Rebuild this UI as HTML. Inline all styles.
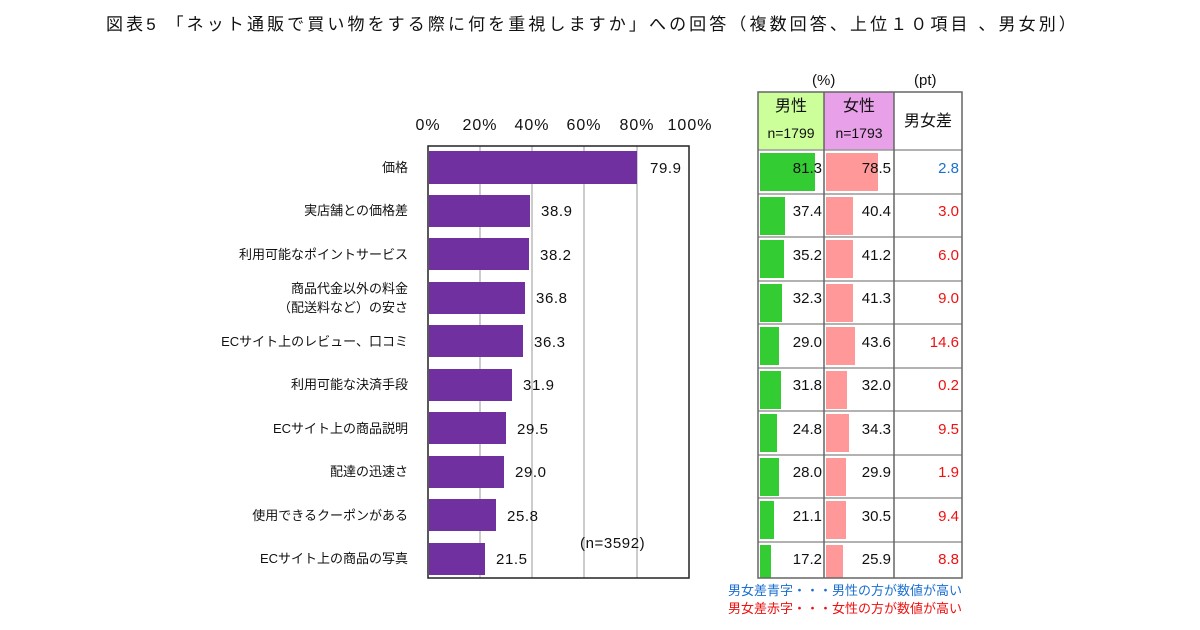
<!DOCTYPE html><html><head><meta charset="utf-8"><style>
body{margin:0;width:1200px;height:630px;background:#fff;font-family:"Liberation Sans","Noto Sans CJK JP",sans-serif;position:relative;overflow:hidden}
.a{position:absolute;white-space:nowrap}
</style></head><body>
<div class="a" style="left:106px;top:10px;font-size:17px;letter-spacing:3.1px;color:#111">図表5 「ネット通販で買い物をする際に何を重視しますか」への回答（複数回答、上位１０項目 、男女別）</div>
<svg class="a" style="left:0;top:0" width="1200" height="630" font-family="Liberation Sans, Noto Sans CJK JP, sans-serif">
<g font-size="16" fill="#111" text-anchor="middle" letter-spacing="1">
<text x="428" y="130">0%</text><text x="480" y="130">20%</text><text x="532" y="130">40%</text><text x="584" y="130">60%</text><text x="637" y="130">80%</text><text x="690" y="130">100%</text>
</g>
<g stroke="#999" stroke-width="1">
<line x1="480" y1="146" x2="480" y2="578"/><line x1="532" y1="146" x2="532" y2="578"/><line x1="584" y1="146" x2="584" y2="578"/><line x1="637" y1="146" x2="637" y2="578"/>
</g>
<rect x="428" y="146" width="261" height="432" fill="none" stroke="#222" stroke-width="1.5"/>
<g fill="#7030a0">
<rect x="429" y="151" width="208" height="33"/>
<rect x="429" y="195" width="101" height="32"/>
<rect x="429" y="238" width="100" height="32"/>
<rect x="429" y="282" width="96" height="32"/>
<rect x="429" y="325" width="94" height="32"/>
<rect x="429" y="369" width="83" height="32"/>
<rect x="429" y="412" width="77" height="32"/>
<rect x="429" y="456" width="75" height="32"/>
<rect x="429" y="499" width="67" height="32"/>
<rect x="429" y="543" width="56" height="32"/>
</g>
<g font-size="15" fill="#111" letter-spacing="0.6">
<text x="650" y="173">79.9</text><text x="541" y="216">38.9</text><text x="540" y="260">38.2</text><text x="536" y="303">36.8</text><text x="534" y="347">36.3</text><text x="523" y="390">31.9</text><text x="517" y="434">29.5</text><text x="515" y="477">29.0</text><text x="507" y="521">25.8</text><text x="496" y="564">21.5</text>
<text x="580" y="548">(n=3592)</text>
</g>
<g font-size="13" fill="#111" text-anchor="end">
<text x="408" y="172">価格</text><text x="408" y="215">実店舗との価格差</text><text x="408" y="259">利用可能なポイントサービス</text>
<text x="408" y="293">商品代金以外の料金</text><text x="408" y="312">（配送料など）の安さ</text>
<text x="408" y="346">ECサイト上のレビュー、口コミ</text><text x="408" y="389">利用可能な決済手段</text><text x="408" y="433">ECサイト上の商品説明</text><text x="408" y="476">配達の迅速さ</text><text x="408" y="520">使用できるクーポンがある</text><text x="408" y="563">ECサイト上の商品の写真</text>
</g>
<text x="812" y="85" font-size="15" fill="#111">(%)</text><text x="914" y="85" font-size="15" fill="#111">(pt)</text>
<rect x="758" y="92" width="66" height="58" fill="#ccff99"/><rect x="824" y="92" width="70" height="58" fill="#e8a0e8"/>
<g font-size="16" fill="#111" text-anchor="middle">
<text x="791" y="111">男性</text><text x="859" y="111">女性</text><text x="928" y="126">男女差</text>
</g>
<g font-size="14" fill="#111" text-anchor="middle"><text x="791" y="138">n=1799</text><text x="859" y="138">n=1793</text></g>
<g fill="#33cc33">
<rect x="760" y="153" width="55" height="38"/><rect x="760" y="197" width="25" height="38"/><rect x="760" y="240" width="24" height="38"/><rect x="760" y="284" width="22" height="38"/><rect x="760" y="327" width="19" height="38"/><rect x="760" y="371" width="21" height="38"/><rect x="760" y="414" width="17" height="38"/><rect x="760" y="458" width="19" height="38"/><rect x="760" y="501" width="14" height="38"/><rect x="760" y="545" width="11" height="33"/>
</g>
<g fill="#ff9999">
<rect x="826" y="153" width="52" height="38"/><rect x="826" y="197" width="27" height="38"/><rect x="826" y="240" width="27" height="38"/><rect x="826" y="284" width="27" height="38"/><rect x="826" y="327" width="29" height="38"/><rect x="826" y="371" width="21" height="38"/><rect x="826" y="414" width="23" height="38"/><rect x="826" y="458" width="20" height="38"/><rect x="826" y="501" width="20" height="38"/><rect x="826" y="545" width="17" height="33"/>
</g>
<g stroke="#999" stroke-width="1.5">
<line x1="758" y1="150" x2="962" y2="150"/><line x1="758" y1="194" x2="962" y2="194"/><line x1="758" y1="237" x2="962" y2="237"/><line x1="758" y1="281" x2="962" y2="281"/><line x1="758" y1="324" x2="962" y2="324"/><line x1="758" y1="368" x2="962" y2="368"/><line x1="758" y1="411" x2="962" y2="411"/><line x1="758" y1="455" x2="962" y2="455"/><line x1="758" y1="498" x2="962" y2="498"/><line x1="758" y1="542" x2="962" y2="542"/>
</g>
<g stroke="#666" stroke-width="1.5" fill="none">
<rect x="758" y="92" width="204" height="486"/><line x1="824" y1="92" x2="824" y2="578"/><line x1="894" y1="92" x2="894" y2="578"/>
</g>
<g font-size="15" fill="#111" text-anchor="end">
<text x="822" y="173">81.3</text><text x="822" y="216">37.4</text><text x="822" y="260">35.2</text><text x="822" y="303">32.3</text><text x="822" y="347">29.0</text><text x="822" y="390">31.8</text><text x="822" y="434">24.8</text><text x="822" y="477">28.0</text><text x="822" y="521">21.1</text><text x="822" y="564">17.2</text>
<text x="891" y="173">78.5</text><text x="891" y="216">40.4</text><text x="891" y="260">41.2</text><text x="891" y="303">41.3</text><text x="891" y="347">43.6</text><text x="891" y="390">32.0</text><text x="891" y="434">34.3</text><text x="891" y="477">29.9</text><text x="891" y="521">30.5</text><text x="891" y="564">25.9</text>
</g>
<g font-size="15" fill="#ee1111" text-anchor="end">
<text x="959" y="173" fill="#1a6fd0">2.8</text><text x="959" y="216">3.0</text><text x="959" y="260">6.0</text><text x="959" y="303">9.0</text><text x="959" y="347">14.6</text><text x="959" y="390">0.2</text><text x="959" y="434">9.5</text><text x="959" y="477">1.9</text><text x="959" y="521">9.4</text><text x="959" y="564">8.8</text>
</g>
<g font-size="13" text-anchor="end">
<text x="962" y="595" fill="#1a6fd0">男女差青字・・・男性の方が数値が高い</text>
<text x="962" y="613" fill="#ee1111">男女差赤字・・・女性の方が数値が高い</text>
</g>
</svg>
</body></html>
